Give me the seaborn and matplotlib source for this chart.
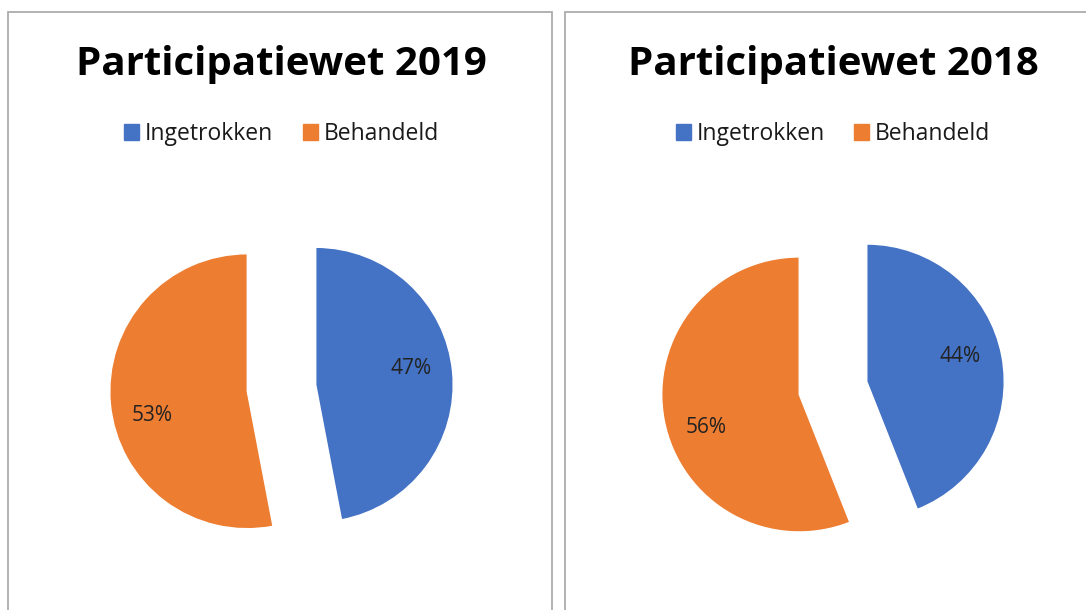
import matplotlib
matplotlib.use("Agg")
import numpy as np
import matplotlib.pyplot as plt
import seaborn as sns
from matplotlib.patches import Rectangle

# data
labels = ["Ingetrokken", "Behandeld"]
titles = ["Participatiewet 2019", "Participatiewet 2018"]
values_2019 = [47, 53]
values_2018 = [44, 56]

sns.set_theme(style="white")
plt.rcParams["font.family"] = ["Open Sans", "DejaVu Sans"]
colors = ["#4472C4", "#ED7D31"]

W, H = 1086, 610
fig = plt.figure(figsize=(W / 100, H / 100), dpi=100)

# panel borders (pixel coords -> figure fraction)
for x0, x1 in [(8, 552), (565, 1100)]:
    fig.patches.append(Rectangle((x0 / W, -0.05), (x1 - x0) / W, (H - 12) / H + 0.05,
                                 transform=fig.transFigure, fill=False,
                                 edgecolor="#A6A6A6", linewidth=1.2))

R = 137.5
LIM = 1.4
panels = [(281.5, values_2019, titles[0]), (833, values_2018, titles[1])]
for cx, vals, title in panels:
    cy = H - 388
    half = LIM * R
    ax = fig.add_axes([(cx - half) / W, (cy - half) / H, 2 * half / W, 2 * half / H])
    wedges, _, pcts = ax.pie(vals, colors=colors, startangle=90, counterclock=False,
                             explode=[0.25, 0.25],
                             autopct=lambda p: f"{p:.0f}%", pctdistance=0.7,
                             textprops={"fontsize": 15, "color": "#222222"})
    # Excel puts the labels a bit counter-clockwise of the wedge middle
    for w, t in zip(wedges, pcts):
        ang = np.deg2rad((w.theta1 + w.theta2) / 2 + 6.5)
        x, y = w.center
        t.set_position((x + 0.71 * np.cos(ang), y + 0.71 * np.sin(ang) - 0.03))
    ax.set_xlim(-LIM, LIM)
    ax.set_ylim(-LIM, LIM)
    ax.set_aspect("equal")
    ax.axis("off")

    fig.text(cx / W, 1 - 64 / H, title, ha="center", va="center",
             fontsize=29, fontweight="bold", color="black")
    handles = [Rectangle((0, 0), 1, 1, color=c) for c in colors]
    fig.legend(handles, labels, loc="center", bbox_to_anchor=(cx / W, 1 - 134 / H),
               ncol=2, frameon=False, fontsize=16.5, handlelength=0.65,
               handleheight=0.65, handletextpad=0.25, columnspacing=1.3,
               labelcolor="#1a1a1a")

fig.savefig("out.png", dpi=100, facecolor="white")
